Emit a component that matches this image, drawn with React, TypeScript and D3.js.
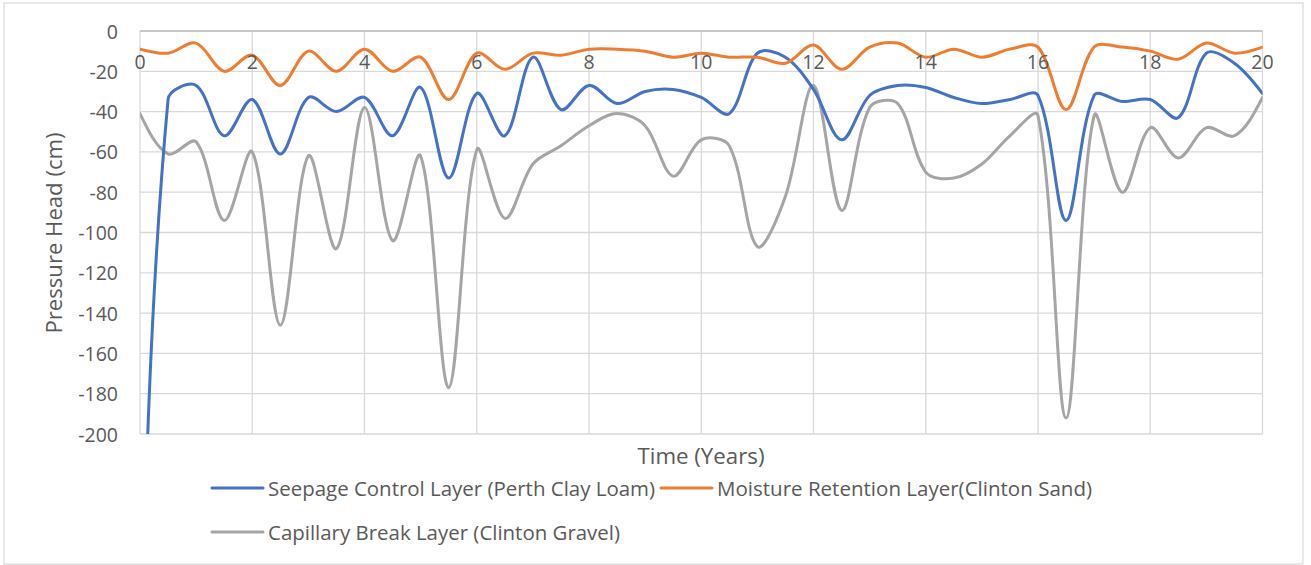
import React from "react";
import * as d3 from "d3";

const years: number[] = [
  0, 0.5, 1, 1.5, 2, 2.5, 3, 3.5, 4, 4.5, 5, 5.5, 6, 6.5, 7, 7.5, 8, 8.5, 9, 9.5,
  10, 10.5, 11, 11.5, 12, 12.5, 13, 13.5, 14, 14.5, 15, 15.5, 16, 16.5, 17, 17.5,
  18, 18.5, 19, 19.5, 20,
];

const seepage: number[] = [
  -330, -34, -27, -52, -34, -61, -33, -40, -33, -52, -28, -73, -31, -52, -13, -39,
  -27, -36, -30, -29, -33, -41, -11, -13, -29, -54, -32, -27, -28, -33, -36, -34,
  -32, -94, -32, -35, -34, -43, -11, -16, -31,
];

const moisture: number[] = [
  -9, -11, -6, -20, -12, -27, -10, -20, -9, -20, -13, -34, -11, -19, -11, -12, -9,
  -9, -10, -13, -11, -13, -13, -16, -7, -19, -8, -6, -13, -9, -13, -9, -8, -39, -8,
  -8, -10, -14, -6, -11, -8,
];

const capillary: number[] = [
  -41, -61, -55, -94, -60, -146, -62, -108, -38, -104, -62, -177, -59, -93, -66,
  -57, -47, -41, -47, -72, -54, -57, -107, -82, -27, -89, -38, -36, -70, -73, -66,
  -52, -42, -192, -42, -80, -48, -63, -48, -52, -33,
];

const seriesNames: string[] = [
  "Seepage Control Layer (Perth Clay Loam)",
  "Moisture Retention Layer(Clinton Sand)",
  "Capillary Break Layer (Clinton Gravel)",
];
const seriesColors: string[] = ["#4472C4", "#ED7D31", "#A5A5A5"];

const xTicks: number[] = [0, 2, 4, 6, 8, 10, 12, 14, 16, 18, 20];
const yTicks: number[] = [0, -20, -40, -60, -80, -100, -120, -140, -160, -180, -200];

// Spreadsheet-style smoothing: Bezier tangents along (next - prev),
// split in proportion to the adjacent chord lengths.
class SmoothCurve {
  _context: any;
  _xs: number[] = [];
  _ys: number[] = [];
  _line: number = NaN;
  constructor(context: any) {
    this._context = context;
  }
  areaStart() {
    this._line = 0;
  }
  areaEnd() {
    this._line = NaN;
  }
  lineStart() {
    this._xs = [];
    this._ys = [];
  }
  point(x: number, y: number) {
    this._xs.push(+x);
    this._ys.push(+y);
  }
  lineEnd() {
    const xs = this._xs;
    const ys = this._ys;
    const n = xs.length;
    const ctx = this._context;
    if (!n) return;
    ctx.moveTo(xs[0], ys[0]);
    if (n === 1) return;
    if (n === 2) {
      ctx.lineTo(xs[1], ys[1]);
      return;
    }
    const inX: number[] = new Array(n);
    const inY: number[] = new Array(n);
    const outX: number[] = new Array(n);
    const outY: number[] = new Array(n);
    for (let i = 1; i < n - 1; i++) {
      const tx = xs[i + 1] - xs[i - 1];
      const ty = ys[i + 1] - ys[i - 1];
      const d1 = Math.hypot(xs[i] - xs[i - 1], ys[i] - ys[i - 1]);
      const d2 = Math.hypot(xs[i + 1] - xs[i], ys[i + 1] - ys[i]);
      const s = d1 + d2 || 1;
      inX[i] = xs[i] - (tx / 3) * (d1 / s);
      inY[i] = ys[i] - (ty / 3) * (d1 / s);
      outX[i] = xs[i] + (tx / 3) * (d2 / s);
      outY[i] = ys[i] + (ty / 3) * (d2 / s);
    }
    outX[0] = xs[0] + (inX[1] - xs[0]) / 2;
    outY[0] = ys[0] + (inY[1] - ys[0]) / 2;
    inX[n - 1] = xs[n - 1] + (outX[n - 2] - xs[n - 1]) / 2;
    inY[n - 1] = ys[n - 1] + (outY[n - 2] - ys[n - 1]) / 2;
    for (let i = 0; i < n - 1; i++) {
      ctx.bezierCurveTo(outX[i], outY[i], inX[i + 1], inY[i + 1], xs[i + 1], ys[i + 1]);
    }
  }
}
const curveSmooth = (context: any) => new SmoothCurve(context);

export default function App() {
  const W = 1311;
  const H = 565;
  const left = 140;
  const right = 1262.5;
  const top = 31;
  const bottom = 434;

  const x = d3.scaleLinear().domain([0, 20]).range([left, right]);
  const y = d3.scaleLinear().domain([0, -200]).range([top, bottom]);

  const line = d3
    .line<number>()
    .x((_, i) => x(years[i]))
    .y((d) => y(d))
    .curve(curveSmooth as any);

  const all = [seepage, moisture, capillary];
  const drawOrder = [2, 0, 1];
  const textColor = "#595959";
  const font = "'Open Sans', sans-serif";

  const legend = [
    { k: 0, lx: 212, ly: 488, tl: 387 },
    { k: 1, lx: 661, ly: 488, tl: 375 },
    { k: 2, lx: 212, ly: 532, tl: 352 },
  ];

  return (
    <svg
      width={W}
      height={H}
      style={{ position: "absolute", left: 0, top: 0, background: "#fff" }}
      fontFamily={font}
    >
      <rect x={0} y={0} width={W} height={H} fill="#fff" />
      <rect x={4} y={3} width={1299} height={561} fill="none" stroke="#d9d9d9" strokeWidth={1.2} />
      <defs>
        <clipPath id="plotclip">
          <rect x={left} y={top} width={right - left} height={bottom - top} />
        </clipPath>
      </defs>
      {yTicks.map((t) => (
        <line key={"gy" + t} x1={left} x2={right} y1={y(t)} y2={y(t)} stroke="#d9d9d9" strokeWidth={1.3} />
      ))}
      {xTicks.map((t) => (
        <line key={"gx" + t} x1={x(t)} x2={x(t)} y1={top} y2={bottom} stroke="#d9d9d9" strokeWidth={1.3} />
      ))}
      <line x1={left} x2={right} y1={y(0)} y2={y(0)} stroke="#bfbfbf" strokeWidth={1.3} />
      {yTicks.map((t) => (
        <text
          key={"ty" + t}
          x={118}
          y={y(t)}
          textAnchor="end"
          dominantBaseline="central"
          fontSize={19.5}
          fill={textColor}
        >
          {t}
        </text>
      ))}
      <g clipPath="url(#plotclip)">
        {drawOrder.map((k) => (
          <path
            key={"s" + k}
            d={line(all[k]) || ""}
            fill="none"
            stroke={seriesColors[k]}
            strokeWidth={3}
            strokeLinejoin="round"
            strokeLinecap="round"
          />
        ))}
      </g>
      {xTicks.map((t) => (
        <text
          key={"tx" + t}
          x={x(t)}
          y={61}
          textAnchor="middle"
          dominantBaseline="central"
          fontSize={19.5}
          fill={textColor}
        >
          {t}
        </text>
      ))}
      <text
        transform={`translate(53,233) rotate(-90)`}
        textAnchor="middle"
        dominantBaseline="central"
        fontSize={21.5}
        textLength={201}
        lengthAdjust="spacingAndGlyphs"
        fill={textColor}
      >
        Pressure Head (cm)
      </text>
      <text
        x={701}
        y={455}
        textAnchor="middle"
        dominantBaseline="central"
        fontSize={21.5}
        textLength={127}
        lengthAdjust="spacingAndGlyphs"
        fill={textColor}
      >
        Time (Years)
      </text>
      {legend.map(({ k, lx, ly, tl }) => (
        <g key={"lg" + k}>
          <line x1={lx} x2={lx + 51} y1={ly} y2={ly} stroke={seriesColors[k]} strokeWidth={3} strokeLinecap="round" />
          <text
            x={lx + 56}
            y={ly}
            dominantBaseline="central"
            fontSize={20.3}
            textLength={tl}
            lengthAdjust="spacingAndGlyphs"
            fill={textColor}
          >
            {seriesNames[k]}
          </text>
        </g>
      ))}
    </svg>
  );
}
